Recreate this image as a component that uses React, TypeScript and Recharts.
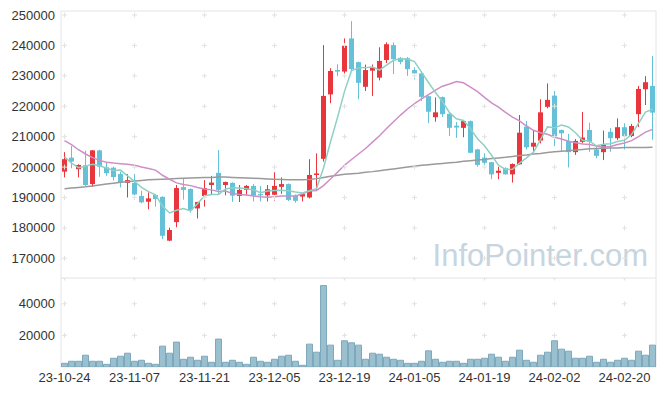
import React from 'react';
import { ComposedChart, BarChart, Bar, Line, XAxis, YAxis, ReferenceArea, ReferenceDot } from 'recharts';

const dates = [
  '23-10-24', '23-10-25', '23-10-26', '23-10-27', '23-10-30', '23-10-31', '23-11-01', '23-11-02', '23-11-03', '23-11-06',
  '23-11-07', '23-11-08', '23-11-09', '23-11-10', '23-11-13', '23-11-14', '23-11-15', '23-11-16', '23-11-17', '23-11-20',
  '23-11-21', '23-11-22', '23-11-23', '23-11-24', '23-11-27', '23-11-28', '23-11-29', '23-11-30', '23-12-01', '23-12-04',
  '23-12-05', '23-12-06', '23-12-07', '23-12-08', '23-12-11', '23-12-12', '23-12-13', '23-12-14', '23-12-15', '23-12-18',
  '23-12-19', '23-12-20', '23-12-21', '23-12-22', '23-12-26', '23-12-27', '23-12-28', '24-01-02', '24-01-03', '24-01-04',
  '24-01-05', '24-01-08', '24-01-09', '24-01-10', '24-01-11', '24-01-12', '24-01-15', '24-01-16', '24-01-17', '24-01-18',
  '24-01-19', '24-01-22', '24-01-23', '24-01-24', '24-01-25', '24-01-26', '24-01-29', '24-01-30', '24-01-31', '24-02-01',
  '24-02-02', '24-02-05', '24-02-06', '24-02-07', '24-02-08', '24-02-13', '24-02-14', '24-02-15', '24-02-16', '24-02-19',
  '24-02-20', '24-02-21', '24-02-22', '24-02-23', '24-02-26',
];

const opens = [
  198500, 203100, 199300, 200600, 194400, 205500, 199900, 199800, 197700, 194800,
  194800, 190500, 188600, 190800, 190200, 175800, 181900, 193400, 192800, 186400,
  190500, 194100, 198100, 194100, 194800, 190500, 192500, 193800, 191100, 190700,
  190900, 193500, 194400, 190600, 190300, 190000, 197400, 202700, 223900, 231900,
  231400, 242300, 234500, 226400, 231700, 229400, 235200, 240100, 235900, 235800,
  231900, 230800, 223300, 216400, 223000, 217500, 213600, 212900, 215100, 205800,
  203100, 201600, 198100, 199600, 197600, 200900, 213300, 206700, 208700, 219800,
  223500, 212200, 208600, 204900, 208300, 212200, 205800, 204900, 211600, 209500,
  213100, 210200, 217400, 225600, 226700,
];

const highs = [
  204900, 206900, 200900, 205400, 205600, 205700, 201400, 200100, 198500, 197700,
  197700, 192200, 191700, 191000, 190400, 180100, 194100, 196400, 193000, 188600,
  195700, 197100, 205600, 195200, 195000, 194100, 194100, 194400, 193800, 194100,
  198300, 196600, 194600, 191000, 191200, 202600, 204500, 240100, 232500, 233800,
  242300, 248000, 234700, 233700, 233700, 239400, 241000, 241000, 236200, 236200,
  232800, 231600, 223500, 222900, 223200, 217800, 214800, 215200, 215300, 206000,
  204500, 201700, 200100, 199900, 201200, 217100, 215200, 212000, 222300, 227500,
  225000, 212300, 210900, 209200, 218100, 214600, 206900, 212000, 212800, 216000,
  214400, 214200, 226700, 229900, 236500,
];

const lows = [
  196600, 199600, 196600, 193800, 193500, 196800, 197100, 195600, 193300, 190000,
  189200, 188100, 186100, 187000, 176300, 175600, 180200, 189300, 185000, 183100,
  187000, 191100, 190800, 190700, 188600, 188500, 190800, 188700, 188700, 188700,
  189000, 191200, 188800, 188300, 188700, 189700, 192100, 201800, 221000, 229900,
  230600, 231400, 222300, 225000, 223400, 228500, 234200, 230600, 233800, 230000,
  228800, 221700, 214400, 214900, 216500, 210200, 209600, 209800, 204600, 200100,
  200300, 196000, 196000, 197500, 194900, 200800, 205800, 205100, 207800, 219300,
  206900, 205000, 199900, 204000, 207800, 205000, 202900, 202300, 205000, 208900,
  205800, 209800, 213200, 220400, 209000,
];

const closes = [
  202600, 201800, 200700, 194100, 205500, 200100, 198000, 196700, 194900, 195700,
  191000, 188400, 189700, 189500, 177400, 179300, 193100, 192500, 185900, 188500,
  193100, 194900, 192500, 195100, 190600, 192500, 193800, 190600, 190700, 192700,
  193800, 194400, 189200, 188900, 191100, 197400, 197900, 223400, 231600, 231400,
  240100, 232200, 227700, 231900, 232700, 234900, 240400, 235500, 234600, 232200,
  230800, 223100, 218200, 218000, 217400, 212900, 213000, 215100, 204700, 200700,
  201400, 197600, 198800, 197600, 201000, 211300, 206500, 208000, 218000, 222100,
  209800, 211100, 204900, 208600, 209700, 208300, 203700, 207300, 209500, 213100,
  210200, 213500, 225700, 227900, 217900,
];

const volumes = [
  2340, 3620, 3620, 7450, 3620, 3620, 1700, 5530, 6810, 8720,
  3620, 4260, 2340, 1700, 13190, 8720, 15750, 4890, 6170, 4260,
  6810, 2980, 17660, 2980, 4260, 2980, 1700, 6170, 3620, 2980,
  4890, 6810, 7450, 3620, 1060, 14470, 9360, 51500, 13830, 4260,
  16600, 15320, 13830, 4890, 8720, 8090, 6170, 4890, 4260, 2340,
  2340, 3620, 10210, 4890, 2980, 3620, 3620, 2340, 4890, 4890,
  5530, 8090, 6170, 3620, 6170, 10640, 4260, 2980, 7450, 9360,
  16600, 11280, 10000, 5530, 5530, 6810, 2980, 4890, 2980, 4260,
  5530, 4260, 10000, 7450, 13830,
];

const ma5 = [
  203400, 201300, 199800, 200300, 200900, 200400, 199700, 198900, 199000, 197100,
  195300, 193300, 191900, 190900, 187200, 184900, 185800, 186400, 185600, 187900,
  190600, 191000, 191000, 192800, 193200, 193100, 192900, 192500, 191600, 192100,
  192300, 192400, 192200, 191800, 191500, 192200, 192900, 199700, 208300, 216300,
  224900, 231700, 232600, 232700, 232900, 231900, 233500, 235100, 235600, 235500,
  234700, 231200, 227800, 224500, 221500, 217900, 215900, 215300, 212600, 209300,
  207000, 203900, 200600, 199200, 199300, 201300, 203000, 204900, 209000, 213200,
  212900, 213800, 213200, 211300, 208800, 208500, 207000, 207500, 207700, 208400,
  208800, 210700, 214400, 218100, 219000,
];

const ma20 = [
  208700, 207400, 205700, 204300, 203100, 202200, 201600, 201300, 201100, 200900,
  200600, 200000, 199500, 199000, 197300, 196000, 194800, 194300, 193900, 193300,
  192800, 192500, 192000, 192100, 191300, 191000, 190800, 190500, 190200, 190100,
  190200, 190500, 190500, 190500, 191200, 192100, 192300, 193900, 196100, 198300,
  200600, 202500, 204300, 206100, 208200, 210300, 212700, 214900, 217100, 219100,
  220900, 222400, 223800, 225300, 226600, 227300, 228100, 227700, 226300, 224800,
  222900, 221100, 219700, 218000, 216400, 215200, 213500, 212100, 211300, 210800,
  209800, 209200, 208500, 208000, 207600, 207400, 206900, 206600, 206800, 207400,
  207900, 208700, 210000, 211500, 212400,
];

const ma60 = [
  192900, 193100, 193300, 193500, 193800, 194100, 194400, 194700, 195000, 195200,
  195400, 195600, 195800, 195900, 196000, 196100, 196200, 196300, 196400, 196500,
  196600, 196600, 196700, 196700, 196600, 196500, 196400, 196300, 196200, 196100,
  196000, 195900, 195800, 195800, 195800, 195900, 196200, 196600, 197000, 197300,
  197600, 197800, 198000, 198300, 198500, 198800, 199100, 199400, 199700, 200000,
  200300, 200600, 200800, 201000, 201200, 201400, 201600, 201900, 202100, 202300,
  202500, 202800, 203000, 203200, 203500, 203800, 204000, 204300, 204500, 204800,
  205000, 205200, 205400, 205600, 205800, 206000, 206100, 206200, 206300, 206300,
  206400, 206400, 206400, 206400, 206500,
];

const tickDates = ['23-10-24', '23-11-07', '23-11-21', '23-12-05', '23-12-19', '24-01-05', '24-01-19', '24-02-02', '24-02-20'];
const priceTicks = [170000, 180000, 190000, 200000, 210000, 220000, 230000, 240000, 250000];
const volumeTicks = [20000, 40000];

const PRICE_MIN = 163520;
const PRICE_MAX = 251320;
const VOL_MAX = 56300;

const UP = '#e9363c';
const DOWN = '#64c1d8';
const FRAME = '#e4e4e4';
const CROSS = '#e2e2e2';

const data = dates.map((date, i) => ({
  date,
  open: opens[i],
  high: highs[i],
  low: lows[i],
  close: closes[i],
  range: [lows[i], highs[i]],
  volume: volumes[i],
  ma5: ma5[i],
  ma20: ma20[i],
  ma60: ma60[i],
}));

const Candle = (props: any) => {
  const { x, y, width, height, payload } = props;
  if (!payload) return null;
  const { open, close, high, low } = payload;
  const top = Math.min(y, y + height);
  const bottom = Math.max(y, y + height);
  const ppv = (bottom - top) / (high - low || 1);
  const oy = top + (high - open) * ppv;
  const cy = top + (high - close) * ppv;
  const color = close >= open ? UP : DOWN;
  const cx = x + width / 2;
  const bodyTop = Math.min(oy, cy);
  const bodyH = Math.max(Math.abs(oy - cy), 1);
  return (
    <g>
      <line x1={cx} x2={cx} y1={top} y2={bottom} stroke={color} strokeWidth={1} />
      <rect x={cx - 2.5} y={bodyTop} width={5} height={bodyH} fill={color} />
    </g>
  );
};

const Cross = (props: any) => {
  const { cx, cy } = props;
  return <path d={`M${cx - 2.5},${cy}h5M${cx},${cy - 2.5}v5`} stroke={CROSS} strokeWidth={1} fill="none" />;
};

const crosses = (yValues: number[], prefix: string) =>
  tickDates.flatMap((d) =>
    yValues.map((v) => <ReferenceDot key={`${prefix}-${d}-${v}`} x={d} y={v} r={0} shape={Cross} />)
  );

const tickStyle = { fontSize: 13, fill: '#333' };

const App: React.FC = () => {
  return (
    <div
      style={{
        position: 'absolute',
        left: 0,
        top: 0,
        width: 665,
        height: 396,
        background: '#fff',
        fontFamily: '"Liberation Sans", Arial, sans-serif',
      }}
    >
      <div
        style={{
          position: 'absolute',
          left: 380,
          top: 240,
          width: 268,
          textAlign: 'right',
          fontSize: 31,
          lineHeight: '31px',
          color: '#c6d5e0',
        }}
      >
        InfoPointer.com
      </div>
      <div style={{ position: 'absolute', left: 0, top: 0 }}>
        <ComposedChart width={665} height={278} data={data} margin={{ top: 11, right: 9, bottom: 0, left: 0 }} barCategoryGap={1}>
          <XAxis dataKey="date" hide />
          <YAxis
            domain={[PRICE_MIN, PRICE_MAX]}
            ticks={priceTicks}
            width={61}
            tickLine={false}
            axisLine={false}
            tickMargin={0}
            tick={tickStyle}
            allowDataOverflow
          />
          <ReferenceArea y1={PRICE_MIN} y2={PRICE_MAX} fill="none" stroke={FRAME} strokeOpacity={1} fillOpacity={0} />
          {crosses(priceTicks, 'p')}
          <Bar dataKey="range" shape={Candle} isAnimationActive={false} />
          <Line dataKey="ma60" type="linear" stroke="#9a9a9a" strokeWidth={1.5} dot={false} isAnimationActive={false} />
          <Line dataKey="ma20" type="linear" stroke="#cf8fc6" strokeWidth={1.5} dot={false} isAnimationActive={false} />
          <Line dataKey="ma5" type="linear" stroke="#8fd0c4" strokeWidth={1.5} dot={false} isAnimationActive={false} />
        </ComposedChart>
      </div>
      <div style={{ position: 'absolute', left: 0, top: 278 }}>
        <BarChart width={665} height={118} data={data} margin={{ top: 0, right: 9, bottom: 0, left: 0 }} barCategoryGap={0.5}>
          <XAxis
            dataKey="date"
            ticks={tickDates}
            interval={0}
            tickLine={false}
            axisLine={false}
            tickMargin={0}
            height={29}
            tick={tickStyle}
          />
          <YAxis
            domain={[0, VOL_MAX]}
            ticks={volumeTicks}
            width={61}
            tickLine={false}
            axisLine={false}
            tickMargin={0}
            tick={tickStyle}
            allowDataOverflow
          />
          <ReferenceArea y1={0} y2={VOL_MAX} fill="none" stroke={FRAME} strokeOpacity={1} fillOpacity={0} />
          {crosses([...volumeTicks, VOL_MAX], 'v')}
          <Bar dataKey="volume" fill="#9ac0cf" stroke="#7ea8bb" strokeWidth={1} isAnimationActive={false} />
        </BarChart>
      </div>
    </div>
  );
};

export default App;
